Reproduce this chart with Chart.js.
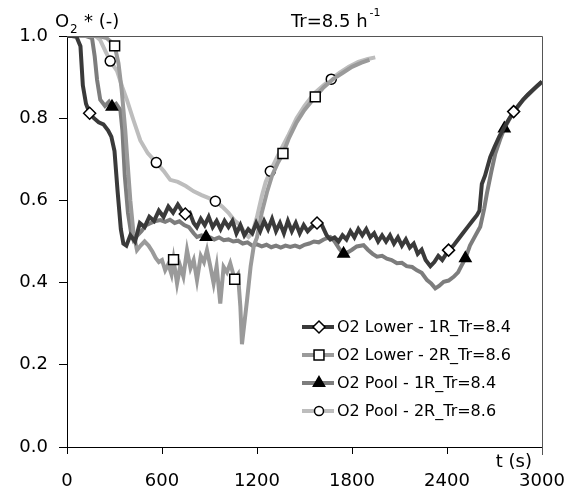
<!DOCTYPE html>
<html>
<head>
<meta charset="utf-8">
<script src="https://cdn.jsdelivr.net/npm/chart.js@4.4.0/dist/chart.umd.min.js"></script>
<style>
  html, body { margin: 0; padding: 0; background: #fff; }
  #wrap { width: 571px; height: 497px; }
</style>
</head>
<body>
<div id="wrap"><canvas id="grafico" width="571" height="497"></canvas></div>
<script>
// O2 Lower - 1R_Tr=8.4
const tLower1 = [0,30,60,85,100,120,143,170,200,230,260,280,300,320,340,356,375,400,430,460,490,520,550,580,610,640,670,700,725,747,775,800,820,845,870,895,920,945,970,995,1020,1045,1070,1095,1120,1145,1170,1195,1220,1245,1270,1295,1320,1345,1370,1395,1420,1445,1470,1495,1520,1545,1579,1610,1640,1663,1690,1715,1740,1765,1790,1815,1840,1865,1890,1915,1940,1965,1990,2015,2040,2065,2090,2115,2140,2165,2190,2215,2240,2265,2295,2320,2345,2370,2410,2440,2470,2500,2530,2560,2589,2605,2620,2640,2673,2700,2730,2762,2790,2821,2850,2880,2910,2940,2970,3000];
const yLower1 = [1.0,1.0,0.998,0.975,0.88,0.835,0.812,0.80,0.79,0.785,0.77,0.755,0.72,0.62,0.53,0.495,0.49,0.515,0.50,0.545,0.535,0.56,0.55,0.575,0.56,0.585,0.57,0.59,0.575,0.567,0.57,0.545,0.535,0.555,0.54,0.56,0.535,0.55,0.53,0.55,0.535,0.55,0.52,0.54,0.515,0.53,0.52,0.545,0.525,0.55,0.53,0.555,0.525,0.545,0.52,0.55,0.525,0.545,0.52,0.54,0.525,0.535,0.545,0.54,0.515,0.505,0.51,0.50,0.515,0.505,0.525,0.51,0.53,0.515,0.53,0.51,0.52,0.50,0.515,0.50,0.515,0.495,0.51,0.49,0.505,0.485,0.495,0.47,0.48,0.455,0.44,0.45,0.465,0.455,0.479,0.49,0.505,0.52,0.535,0.55,0.564,0.575,0.64,0.66,0.705,0.73,0.755,0.778,0.797,0.816,0.83,0.845,0.857,0.868,0.879,0.889];
const mLower1 = [143,747,1579,2410,2821];

// O2 Lower - 2R_Tr=8.6
const tLower2 = [0,100,200,250,280,301,325,345,368,381,400,420,442,465,490,515,540,560,580,600,620,640,660,673,695,715,735,758,780,800,821,845,865,884,905,926,945,968,989,1010,1031,1059,1080,1095,1105,1120,1137,1160,1180,1200,1230,1263,1295,1330,1364,1400,1450,1500,1568,1620,1680,1740,1800,1860,1910];
const yLower2 = [1.0,1.0,1.0,0.995,0.985,0.976,0.934,0.87,0.77,0.70,0.60,0.52,0.479,0.49,0.50,0.49,0.475,0.46,0.45,0.455,0.43,0.445,0.42,0.456,0.398,0.44,0.415,0.479,0.435,0.455,0.406,0.465,0.45,0.479,0.44,0.398,0.44,0.349,0.438,0.425,0.447,0.408,0.42,0.341,0.25,0.30,0.357,0.44,0.49,0.51,0.57,0.62,0.66,0.69,0.714,0.75,0.79,0.82,0.852,0.875,0.895,0.91,0.925,0.935,0.942];
const mLower2 = [301,673,1059,1364,1568];

// O2 Pool - 1R_Tr=8.4
const tPool1 = [0,60,120,158,175,190,210,240,265,284,310,337,350,365,385,405,420,445,470,500,530,560,590,620,650,680,710,740,770,800,821,850,878,905,930,960,990,1020,1050,1080,1110,1140,1170,1200,1230,1260,1290,1320,1350,1380,1410,1440,1470,1500,1530,1560,1590,1621,1663,1690,1720,1747,1775,1800,1830,1873,1900,1930,1958,1990,2020,2050,2084,2115,2145,2180,2210,2240,2274,2300,2326,2350,2379,2410,2442,2470,2490,2516,2545,2580,2610,2635,2652,2680,2705,2735,2762,2790,2820,2850,2880,2910,2940,2970,3000];
const yPool1 = [1.0,1.0,1.0,0.995,0.95,0.893,0.845,0.83,0.84,0.828,0.835,0.82,0.77,0.66,0.57,0.52,0.503,0.515,0.525,0.54,0.545,0.55,0.552,0.548,0.553,0.545,0.549,0.54,0.535,0.52,0.511,0.515,0.511,0.51,0.505,0.51,0.503,0.505,0.50,0.502,0.495,0.498,0.49,0.493,0.488,0.492,0.486,0.49,0.485,0.49,0.487,0.49,0.486,0.492,0.495,0.50,0.498,0.505,0.511,0.50,0.482,0.47,0.474,0.48,0.488,0.491,0.48,0.47,0.463,0.465,0.458,0.455,0.447,0.448,0.44,0.438,0.43,0.424,0.406,0.398,0.386,0.392,0.402,0.405,0.414,0.425,0.44,0.459,0.49,0.515,0.536,0.58,0.617,0.67,0.714,0.748,0.775,0.795,0.814,0.829,0.844,0.856,0.867,0.878,0.888];
const mPool1 = [284,878,1747,2516,2762];

// O2 Pool - 2R_Tr=8.6
const tPool2 = [0,100,180,210,240,273,316,350,379,420,463,510,564,610,652,700,750,800,850,900,937,980,1020,1060,1095,1120,1147,1170,1200,1230,1255,1284,1320,1360,1400,1450,1500,1560,1620,1669,1720,1780,1840,1900,1947];
const yPool2 = [1.0,1.0,1.0,0.99,0.965,0.939,0.915,0.875,0.844,0.795,0.746,0.715,0.692,0.672,0.65,0.645,0.635,0.622,0.613,0.605,0.598,0.585,0.57,0.55,0.54,0.522,0.511,0.52,0.56,0.61,0.645,0.671,0.70,0.73,0.76,0.80,0.83,0.86,0.88,0.895,0.91,0.925,0.937,0.944,0.948];
const mPool2 = [273,564,937,1284,1669];

const xTicks = [0,600,1200,1800,2400,3000];
const yTicks = [0.0,0.2,0.4,0.6,0.8,1.0];

function serie(ts, ys) {
  return ts.map((t, i) => ({ x: t, y: ys[i] }));
}

function dataset(label, ts, ys, marks, color, style, radius, fill) {
  return {
    label: label,
    data: serie(ts, ys),
    borderColor: color,
    borderWidth: 4,
    tension: 0,
    pointStyle: style,
    pointRadius: (ctx) => (ctx.raw && marks.includes(ctx.raw.x) ? radius : 0),
    pointHoverRadius: 0,
    pointBackgroundColor: fill,
    pointBorderColor: "#000",
    pointBorderWidth: 1.5,
  };
}

const datasets = [
  dataset("O2 Lower - 1R_Tr=8.4", tLower1, yLower1, mLower1, "#3a3a3a", "rectRot", 6, "#fff"),
  dataset("O2 Lower - 2R_Tr=8.6", tLower2, yLower2, mLower2, "#9a9a9a", "rect", 7, "#fff"),
  dataset("O2 Pool - 1R_Tr=8.4", tPool1, yPool1, mPool1, "#7d7d7d", "triangle", 6.5, "#000"),
  dataset("O2 Pool - 2R_Tr=8.6", tPool2, yPool2, mPool2, "#bdbdbd", "circle", 5, "#fff"),
];

function marcador(ctx, style, r, x, y, fill) {
  ctx.save();
  ctx.fillStyle = fill;
  ctx.strokeStyle = "#000";
  ctx.lineWidth = 1.5;
  ctx.beginPath();
  if (style === "rectRot") {
    ctx.moveTo(x, y - r); ctx.lineTo(x + r, y); ctx.lineTo(x, y + r); ctx.lineTo(x - r, y);
  } else if (style === "rect") {
    const s = r * Math.SQRT1_2;
    ctx.rect(x - s, y - s, 2 * s, 2 * s);
  } else if (style === "triangle") {
    ctx.moveTo(x, y - r); ctx.lineTo(x + r * 0.866, y + r * 0.5); ctx.lineTo(x - r * 0.866, y + r * 0.5);
  } else {
    ctx.arc(x, y, r, 0, Math.PI * 2);
  }
  ctx.closePath();
  ctx.fill();
  ctx.stroke();
  ctx.restore();
}

const extras = {
  id: "extras",
  afterDraw(chart) {
    const ctx = chart.ctx;
    const a = chart.chartArea;
    ctx.save();
    // marco superior y derecho
    ctx.strokeStyle = "#555";
    ctx.lineWidth = 1;
    ctx.beginPath();
    ctx.moveTo(a.left, a.top + 0.5);
    ctx.lineTo(a.right + 0.5, a.top + 0.5);
    ctx.lineTo(a.right + 0.5, a.bottom + 8);
    ctx.stroke();

    ctx.fillStyle = "#000";
    ctx.textBaseline = "alphabetic";
    ctx.font = "18px 'DejaVu Sans'";
    ctx.fillText("O", 55, 27);
    ctx.font = "12px 'DejaVu Sans'";
    ctx.fillText("2", 70, 33);
    ctx.font = "18px 'DejaVu Sans'";
    ctx.fillText("* (-)", 84, 27);

    ctx.fillText("Tr=8.5 h", 291, 27);
    const w = ctx.measureText("Tr=8.5 h").width;
    ctx.font = "11px 'DejaVu Sans'";
    ctx.fillText("-1", 291 + w + 2, 16);

    ctx.font = "18px 'DejaVu Sans'";
    ctx.textAlign = "right";
    ctx.fillText("t (s)", 532, 467);

    // leyenda
    ctx.textAlign = "left";
    ctx.textBaseline = "middle";
    ctx.font = "16px 'DejaVu Sans'";
    chart.data.datasets.forEach((ds, i) => {
      const y = 327 + i * 28;
      ctx.strokeStyle = ds.borderColor;
      ctx.lineWidth = 4;
      ctx.beginPath();
      ctx.moveTo(302, y);
      ctx.lineTo(334, y);
      ctx.stroke();
      const r = { rectRot: 6, rect: 7, triangle: 6.5, circle: 4.5 }[ds.pointStyle];
      marcador(ctx, ds.pointStyle, r, 319, y, ds.pointBackgroundColor);
      ctx.fillStyle = "#000";
      ctx.fillText(ds.label, 337, y + 1);
    });
    ctx.restore();
  },
};

const ctx = document.getElementById("grafico").getContext("2d");
window.miGrafico = new Chart(ctx, {
  type: "line",
  data: { datasets: datasets },
  plugins: [extras],
  options: {
    responsive: false,
    animation: false,
    parsing: false,
    layout: { padding: { top: 36, right: 29, left: 0, bottom: 0 } },
    plugins: { legend: { display: false }, tooltip: { enabled: false } },
    scales: {
      x: {
        type: "linear",
        min: 0,
        max: 3000,
        afterFit: (s) => { s.height = 50; s.paddingRight = 0; s.paddingLeft = 0; },
        afterBuildTicks: (s) => { s.ticks = xTicks.map((v) => ({ value: v })); },
        ticks: {
          color: "#000",
          padding: 17,
          font: { family: "DejaVu Sans", size: 18 },
          maxRotation: 0,
          autoSkip: false,
          callback: (v) => String(v),
        },
        grid: { display: true, drawOnChartArea: false, tickLength: 7, color: "#000" },
        border: { display: true, color: "#000", width: 1 },
      },
      y: {
        min: 0,
        max: 1,
        afterFit: (s) => { s.width = 67; s.paddingTop = 0; s.paddingBottom = 0; },
        afterBuildTicks: (s) => { s.ticks = yTicks.map((v) => ({ value: v })); },
        ticks: {
          color: "#000",
          padding: 11,
          font: { family: "DejaVu Sans", size: 18 },
          callback: (v) => Number(v).toFixed(1),
        },
        grid: { display: true, drawOnChartArea: false, tickLength: 8, color: "#000" },
        border: { display: true, color: "#000", width: 1 },
      },
    },
  },
});
</script>
</body>
</html>
